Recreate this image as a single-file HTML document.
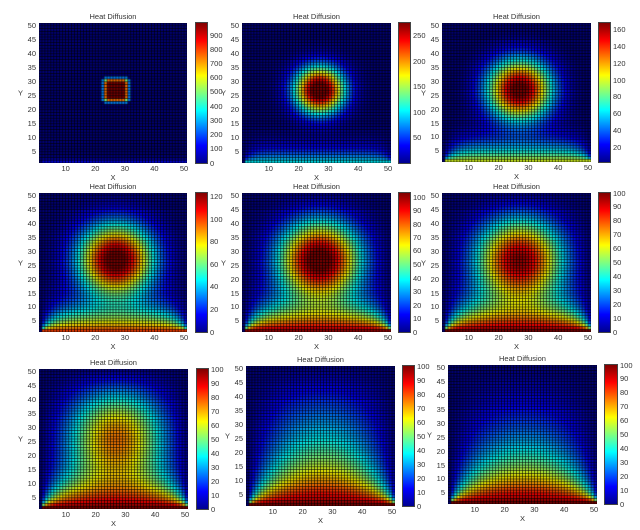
<!DOCTYPE html>
<html><head><meta charset="utf-8">
<style>
body{margin:0;background:#fff;width:640px;height:530px;position:relative;overflow:hidden;font-family:"Liberation Sans",sans-serif;font-size:7.5px;color:#333}
.p{position:absolute;background:#000}
.p canvas{position:absolute;left:0;top:0;width:100%;height:100%}
.x{position:absolute;top:100%;margin-top:2px;transform:translateX(-50%);line-height:1}
.y{position:absolute;right:100%;margin-right:3px;transform:translateY(50%);line-height:1}
.x10{left:18%}.x20{left:38%}.x30{left:58%}.x40{left:78%}.x50{left:98%}
.y5{bottom:8%}.y10{bottom:18%}.y15{bottom:28%}.y20{bottom:38%}.y25{bottom:48%}.y30{bottom:58%}.y35{bottom:68%}.y40{bottom:78%}.y45{bottom:88%}.y50{bottom:98%}
.tt{position:absolute;bottom:100%;margin-bottom:3px;left:50%;transform:translateX(-50%);white-space:nowrap;line-height:1}
.xl{position:absolute;top:100%;margin-top:11px;left:50%;transform:translateX(-50%);line-height:1}
.yl{position:absolute;left:-21px;top:50%;transform:translateY(-50%);line-height:1}
.cb{position:absolute;background:linear-gradient(to top,#00008f 0%,#0000ff 12.5%,#00ffff 37.5%,#ffff00 62.5%,#ff0000 87.5%,#800000 100%);outline:1px solid #444}
.c{position:absolute;left:100%;margin-left:3px;transform:translateY(50%);line-height:1}
</style></head><body>

<div class="p" style="left:39px;top:23px;width:148px;height:140px"><canvas id="c0" width="148" height="140"></canvas>
<div class="tt">Heat Diffusion</div><div class="xl">X</div><div class="yl">Y</div>
<span class="x x10">10</span><span class="x x20">20</span><span class="x x30">30</span><span class="x x40">40</span><span class="x x50">50</span>
<span class="y y5">5</span><span class="y y10">10</span><span class="y y15">15</span><span class="y y20">20</span><span class="y y25">25</span><span class="y y30">30</span><span class="y y35">35</span><span class="y y40">40</span><span class="y y45">45</span><span class="y y50">50</span></div>
<div class="cb" style="left:196px;top:23px;width:11px;height:140px">
<span class="c" style="bottom:0%">0</span><span class="c" style="bottom:10.2%">100</span><span class="c" style="bottom:20.3%">200</span><span class="c" style="bottom:30.5%">300</span><span class="c" style="bottom:40.6%">400</span><span class="c" style="bottom:50.8%">500</span><span class="c" style="bottom:60.9%">600</span><span class="c" style="bottom:71.1%">700</span><span class="c" style="bottom:81.2%">800</span><span class="c" style="bottom:91.4%">900</span></div>

<div class="p" style="left:242px;top:23px;width:149px;height:140px"><canvas id="c1" width="149" height="140"></canvas>
<div class="tt">Heat Diffusion</div><div class="xl">X</div><div class="yl">Y</div>
<span class="x x10">10</span><span class="x x20">20</span><span class="x x30">30</span><span class="x x40">40</span><span class="x x50">50</span>
<span class="y y5">5</span><span class="y y10">10</span><span class="y y15">15</span><span class="y y20">20</span><span class="y y25">25</span><span class="y y30">30</span><span class="y y35">35</span><span class="y y40">40</span><span class="y y45">45</span><span class="y y50">50</span></div>
<div class="cb" style="left:399px;top:23px;width:11px;height:140px">
<span class="c" style="bottom:18.2%">50</span><span class="c" style="bottom:36.4%">100</span><span class="c" style="bottom:54.5%">150</span><span class="c" style="bottom:72.7%">200</span><span class="c" style="bottom:90.9%">250</span></div>

<div class="p" style="left:442px;top:23px;width:149px;height:139px"><canvas id="c2" width="149" height="139"></canvas>
<div class="tt">Heat Diffusion</div><div class="xl">X</div><div class="yl">Y</div>
<span class="x x10">10</span><span class="x x20">20</span><span class="x x30">30</span><span class="x x40">40</span><span class="x x50">50</span>
<span class="y y5">5</span><span class="y y10">10</span><span class="y y15">15</span><span class="y y20">20</span><span class="y y25">25</span><span class="y y30">30</span><span class="y y35">35</span><span class="y y40">40</span><span class="y y45">45</span><span class="y y50">50</span></div>
<div class="cb" style="left:599px;top:23px;width:11px;height:139px">
<span class="c" style="bottom:10.8%">20</span><span class="c" style="bottom:22.9%">40</span><span class="c" style="bottom:34.9%">60</span><span class="c" style="bottom:47%">80</span><span class="c" style="bottom:59%">100</span><span class="c" style="bottom:71.1%">120</span><span class="c" style="bottom:83.1%">140</span><span class="c" style="bottom:95.2%">160</span></div>

<div class="p" style="left:39px;top:193px;width:148px;height:139px"><canvas id="c3" width="148" height="139"></canvas>
<div class="tt">Heat Diffusion</div><div class="xl">X</div><div class="yl">Y</div>
<span class="x x10">10</span><span class="x x20">20</span><span class="x x30">30</span><span class="x x40">40</span><span class="x x50">50</span>
<span class="y y5">5</span><span class="y y10">10</span><span class="y y15">15</span><span class="y y20">20</span><span class="y y25">25</span><span class="y y30">30</span><span class="y y35">35</span><span class="y y40">40</span><span class="y y45">45</span><span class="y y50">50</span></div>
<div class="cb" style="left:196px;top:193px;width:11px;height:139px">
<span class="c" style="bottom:0%">0</span><span class="c" style="bottom:16.3%">20</span><span class="c" style="bottom:32.5%">40</span><span class="c" style="bottom:48.8%">60</span><span class="c" style="bottom:65%">80</span><span class="c" style="bottom:81.3%">100</span><span class="c" style="bottom:97.6%">120</span></div>

<div class="p" style="left:242px;top:193px;width:149px;height:139px"><canvas id="c4" width="149" height="139"></canvas>
<div class="tt">Heat Diffusion</div><div class="xl">X</div><div class="yl">Y</div>
<span class="x x10">10</span><span class="x x20">20</span><span class="x x30">30</span><span class="x x40">40</span><span class="x x50">50</span>
<span class="y y5">5</span><span class="y y10">10</span><span class="y y15">15</span><span class="y y20">20</span><span class="y y25">25</span><span class="y y30">30</span><span class="y y35">35</span><span class="y y40">40</span><span class="y y45">45</span><span class="y y50">50</span></div>
<div class="cb" style="left:399px;top:193px;width:11px;height:139px">
<span class="c" style="bottom:0%">0</span><span class="c" style="bottom:9.7%">10</span><span class="c" style="bottom:19.4%">20</span><span class="c" style="bottom:29.1%">30</span><span class="c" style="bottom:38.8%">40</span><span class="c" style="bottom:48.5%">50</span><span class="c" style="bottom:58.3%">60</span><span class="c" style="bottom:68%">70</span><span class="c" style="bottom:77.7%">80</span><span class="c" style="bottom:87.4%">90</span><span class="c" style="bottom:97.1%">100</span></div>

<div class="p" style="left:442px;top:193px;width:149px;height:139px"><canvas id="c5" width="149" height="139"></canvas>
<div class="tt">Heat Diffusion</div><div class="xl">X</div><div class="yl">Y</div>
<span class="x x10">10</span><span class="x x20">20</span><span class="x x30">30</span><span class="x x40">40</span><span class="x x50">50</span>
<span class="y y5">5</span><span class="y y10">10</span><span class="y y15">15</span><span class="y y20">20</span><span class="y y25">25</span><span class="y y30">30</span><span class="y y35">35</span><span class="y y40">40</span><span class="y y45">45</span><span class="y y50">50</span></div>
<div class="cb" style="left:599px;top:193px;width:11px;height:139px">
<span class="c" style="bottom:0%">0</span><span class="c" style="bottom:10%">10</span><span class="c" style="bottom:20%">20</span><span class="c" style="bottom:30%">30</span><span class="c" style="bottom:40%">40</span><span class="c" style="bottom:50%">50</span><span class="c" style="bottom:60%">60</span><span class="c" style="bottom:70%">70</span><span class="c" style="bottom:80%">80</span><span class="c" style="bottom:90%">90</span><span class="c" style="bottom:100%">100</span></div>

<div class="p" style="left:39px;top:369px;width:149px;height:140px"><canvas id="c6" width="149" height="140"></canvas>
<div class="tt">Heat Diffusion</div><div class="xl">X</div><div class="yl">Y</div>
<span class="x x10">10</span><span class="x x20">20</span><span class="x x30">30</span><span class="x x40">40</span><span class="x x50">50</span>
<span class="y y5">5</span><span class="y y10">10</span><span class="y y15">15</span><span class="y y20">20</span><span class="y y25">25</span><span class="y y30">30</span><span class="y y35">35</span><span class="y y40">40</span><span class="y y45">45</span><span class="y y50">50</span></div>
<div class="cb" style="left:197px;top:369px;width:11px;height:140px">
<span class="c" style="bottom:0%">0</span><span class="c" style="bottom:10%">10</span><span class="c" style="bottom:20%">20</span><span class="c" style="bottom:30%">30</span><span class="c" style="bottom:40%">40</span><span class="c" style="bottom:50%">50</span><span class="c" style="bottom:60%">60</span><span class="c" style="bottom:70%">70</span><span class="c" style="bottom:80%">80</span><span class="c" style="bottom:90%">90</span><span class="c" style="bottom:100%">100</span></div>

<div class="p" style="left:246px;top:366px;width:149px;height:140px"><canvas id="c7" width="149" height="140"></canvas>
<div class="tt">Heat Diffusion</div><div class="xl">X</div><div class="yl">Y</div>
<span class="x x10">10</span><span class="x x20">20</span><span class="x x30">30</span><span class="x x40">40</span><span class="x x50">50</span>
<span class="y y5">5</span><span class="y y10">10</span><span class="y y15">15</span><span class="y y20">20</span><span class="y y25">25</span><span class="y y30">30</span><span class="y y35">35</span><span class="y y40">40</span><span class="y y45">45</span><span class="y y50">50</span></div>
<div class="cb" style="left:403px;top:366px;width:11px;height:140px">
<span class="c" style="bottom:0%">0</span><span class="c" style="bottom:10%">10</span><span class="c" style="bottom:20%">20</span><span class="c" style="bottom:30%">30</span><span class="c" style="bottom:40%">40</span><span class="c" style="bottom:50%">50</span><span class="c" style="bottom:60%">60</span><span class="c" style="bottom:70%">70</span><span class="c" style="bottom:80%">80</span><span class="c" style="bottom:90%">90</span><span class="c" style="bottom:100%">100</span></div>

<div class="p" style="left:448px;top:365px;width:149px;height:139px"><canvas id="c8" width="149" height="139"></canvas>
<div class="tt">Heat Diffusion</div><div class="xl">X</div><div class="yl">Y</div>
<span class="x x10">10</span><span class="x x20">20</span><span class="x x30">30</span><span class="x x40">40</span><span class="x x50">50</span>
<span class="y y5">5</span><span class="y y10">10</span><span class="y y15">15</span><span class="y y20">20</span><span class="y y25">25</span><span class="y y30">30</span><span class="y y35">35</span><span class="y y40">40</span><span class="y y45">45</span><span class="y y50">50</span></div>
<div class="cb" style="left:605px;top:365px;width:12px;height:139px">
<span class="c" style="bottom:0%">0</span><span class="c" style="bottom:10%">10</span><span class="c" style="bottom:20%">20</span><span class="c" style="bottom:30%">30</span><span class="c" style="bottom:40%">40</span><span class="c" style="bottom:50%">50</span><span class="c" style="bottom:60%">60</span><span class="c" style="bottom:70%">70</span><span class="c" style="bottom:80%">80</span><span class="c" style="bottom:90%">90</span><span class="c" style="bottom:100%">100</span></div>

<script>
(function(){
var N=51,u=new Float64Array(N*N),v=new Float64Array(N*N);
function id(i,j){return j*N+i;}
for(var i=22;i<=29;i++)for(var j=22;j<=29;j++)u[id(i,j)]=1000;
function bc(a){for(var i=0;i<N;i++){a[id(i,0)]=(i>0&&i<N-1)?100:0;a[id(i,N-1)]=0;a[id(0,i)]=0;a[id(N-1,i)]=0;}}
bc(u);
var steps=[1,55,105,145,175,200,270,900,3000];
var cmin=[0,0,2,0,0,0,0,0,0],cmax=[985,275,168,123,103,100,100,100,100];
var snaps=[],s=0;
for(var k=0;k<steps.length;k++){
 while(s<steps[k]){
  for(var j=1;j<N-1;j++)for(var i=1;i<N-1;i++){var p=id(i,j);v[p]=u[p]+0.25*(u[p-1]+u[p+1]+u[p-N]+u[p+N]-4*u[p]);}
  bc(v);var t=u;u=v;v=t;s++;
 }
 snaps.push(Float64Array.from(u));
}
function cl(x){return x<0?0:x>1?1:x;}
function jet(t){t=cl(t);var r=cl(1.5-Math.abs(4*t-3)),g=cl(1.5-Math.abs(4*t-2)),b=cl(1.5-Math.abs(4*t-1));
 return 'rgb('+Math.round(r*255)+','+Math.round(g*255)+','+Math.round(b*255)+')';}
for(var k=0;k<9;k++){
 var c=document.getElementById('c'+k),ctx=c.getContext('2d'),W=c.width,H=c.height;
 ctx.fillStyle='#000';ctx.fillRect(0,0,W,H);
 var cw=W/50,ch=H/50,a=snaps[k];
 for(var j=0;j<50;j++)for(var i=0;i<50;i++){
  ctx.fillStyle=jet((a[id(i,j)]-cmin[k])/(cmax[k]-cmin[k]));
  ctx.fillRect(i*cw+0.35,H-(j+1)*ch+0.35,cw-0.7,ch-0.7);
 }
}
})();
</script>
</body></html>
